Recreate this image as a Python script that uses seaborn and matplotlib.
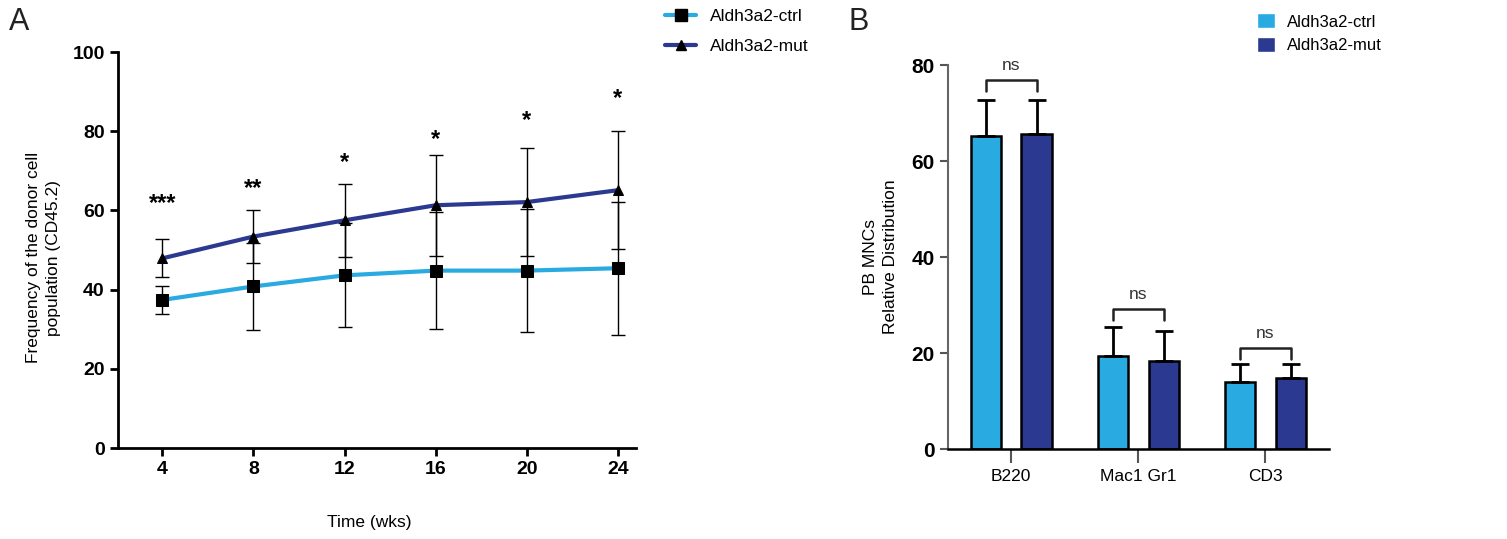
import numpy as np
import matplotlib
matplotlib.use("Agg")
import matplotlib.pyplot as plt
import seaborn as sns
import pandas as pd
from matplotlib.lines import Line2D
from matplotlib.patches import Patch

# Panel A data: donor chimerism over time
weeks = [4, 8, 12, 16, 20, 24]
ctrl_mean = [37.4, 40.8, 43.6, 44.8, 44.8, 45.4]
ctrl_sd = [3.6, 11.0, 13.1, 14.7, 15.6, 16.8]
mut_mean = [47.9, 53.4, 57.5, 61.3, 62.1, 65.1]
mut_sd = [4.8, 6.6, 9.2, 12.8, 13.7, 14.9]
stars = ['***', '**', '*', '*', '*', '*']
star_y = [62.6, 66.4, 72.9, 78.7, 83.4, 89.1]

# Panel B data: lineage distribution
lineages = ['B220', 'Mac1 Gr1', 'CD3']
ctrl_dist = [65.3, 19.4, 14.1]
ctrl_dist_err = [7.4, 6.1, 3.7]
mut_dist = [65.7, 18.3, 14.8]
mut_dist_err = [7.1, 6.3, 3.0]
bracket_y = [76.8, 29.3, 21.1]

groups = ['Aldh3a2-ctrl', 'Aldh3a2-mut']
light_blue = '#29abe2'
dark_blue = '#2b3990'

sns.set_style("ticks")
plt.rcParams['font.family'] = ['Liberation Sans', 'DejaVu Sans']
plt.rcParams['text.color'] = 'black'
plt.rcParams['axes.labelcolor'] = 'black'
plt.rcParams['xtick.labelcolor'] = 'black'
plt.rcParams['ytick.labelcolor'] = 'black'

fig = plt.figure(figsize=(15.07, 5.39), dpi=100)

# ---------------- Panel A ----------------
axA = fig.add_axes([0.0783, 0.1688, 0.3437, 0.7347])
df_a = pd.DataFrame({
    'week': weeks * 2,
    'value': ctrl_mean + mut_mean,
    'group': [groups[0]] * 6 + [groups[1]] * 6,
})
for g, col, mk, ms in [(groups[0], light_blue, 's', 8), (groups[1], dark_blue, '^', 7)]:
    sub = df_a[df_a['group'] == g]
    sns.lineplot(data=sub, x='week', y='value', color=col, lw=3, marker=mk,
                 markersize=ms, markerfacecolor='black', markeredgecolor='black',
                 ax=axA, legend=False, zorder=3)
axA.errorbar(weeks, ctrl_mean, yerr=ctrl_sd, fmt='none', ecolor='black',
             elinewidth=1, capsize=5, capthick=1, zorder=2)
axA.errorbar(weeks, mut_mean, yerr=mut_sd, fmt='none', ecolor='black',
             elinewidth=1, capsize=5, capthick=1, zorder=2)
for w, s, y in zip(weeks, stars, star_y):
    axA.text(w, y - 0.8, s, ha='center', va='center', fontsize=17, fontweight='bold')

axA.set_xlim(2.05, 24.8)
axA.set_ylim(0, 100)
axA.set_xticks(weeks)
axA.set_yticks([0, 20, 40, 60, 80, 100])
axA.tick_params(axis='both', labelsize=14, width=2, length=6, color='black')
for lbl in axA.get_xticklabels() + axA.get_yticklabels():
    lbl.set_fontweight('bold')
for sp in ['left', 'bottom']:
    axA.spines[sp].set_linewidth(2)
    axA.spines[sp].set_color('black')
sns.despine(ax=axA)
axA.set_xlabel('Time (wks)', fontsize=12.5)
axA.xaxis.set_label_coords(0.486, -0.169)
axA.set_ylabel('Frequency of the donor cell\npopulation (CD45.2)', fontsize=12.5,
               linespacing=1.45)
axA.yaxis.set_label_coords(-0.110, 0.48)

legA = [Line2D([0], [0], color=light_blue, lw=3, marker='s', markersize=8,
               markerfacecolor='black', markeredgecolor='black'),
        Line2D([0], [0], color=dark_blue, lw=3, marker='^', markersize=7,
               markerfacecolor='black', markeredgecolor='black')]
fig.legend(legA, groups, loc='upper left', bbox_to_anchor=(0.431, 1.012), frameon=False,
           fontsize=12.5, handlelength=1.8, handletextpad=0.8, labelspacing=0.85)

fig.text(0.006, 0.96, 'A', fontsize=22, va='center', color='#222222')
fig.text(0.563, 0.96, 'B', fontsize=22, va='center', color='#222222')

# ---------------- Panel B ----------------
axB = fig.add_axes([0.6289, 0.1664, 0.2530, 0.7130])
df_b = pd.DataFrame({
    'lineage': lineages * 2,
    'value': ctrl_dist + mut_dist,
    'group': [groups[0]] * 3 + [groups[1]] * 3,
})
sns.barplot(data=df_b, x='lineage', y='value', hue='group', order=lineages,
            hue_order=groups, palette=[light_blue, dark_blue], saturation=1,
            errorbar=None, width=0.8, gap=0.4, edgecolor='black', linewidth=1.8,
            legend=False, ax=axB)

bars = axB.patches
ctrl_x = [b.get_x() + b.get_width() / 2 for b in bars[:3]]
mut_x = [b.get_x() + b.get_width() / 2 for b in bars[3:6]]
axB.errorbar(ctrl_x, ctrl_dist, yerr=[np.zeros(3), ctrl_dist_err], fmt='none',
             ecolor='black', elinewidth=2, capsize=6.5, capthick=2, zorder=1)
axB.errorbar(mut_x, mut_dist, yerr=[np.zeros(3), mut_dist_err], fmt='none',
             ecolor='black', elinewidth=2, capsize=6.5, capthick=2, zorder=1)
for xc, xm, by in zip(ctrl_x, mut_x, bracket_y):
    axB.plot([xc, xc, xm, xm], [by - 2.3, by, by, by - 2.3], color='#222222', lw=1.8)
    axB.text((xc + xm) / 2, by + 3.0, 'ns', ha='center', va='center', fontsize=12.5,
             color='#333333')

axB.set_xlim(-0.5, 2.5)
axB.set_ylim(0, 80)
axB.set_yticks([0, 20, 40, 60, 80])
axB.tick_params(axis='y', labelsize=15, width=1.5, length=6, color='#555555')
axB.tick_params(axis='x', labelsize=12.5, width=1.5, length=10, color='#555555', pad=4)
for lbl in axB.get_yticklabels():
    lbl.set_fontweight('bold')
axB.spines['left'].set_linewidth(1.5)
axB.spines['left'].set_color('#666666')
axB.spines['bottom'].set_linewidth(1.8)
axB.spines['bottom'].set_color('black')
sns.despine(ax=axB)
axB.set_xlabel('')
axB.set_ylabel('PB MNCs\nRelative Distribution', fontsize=12.5, linespacing=1.4)
axB.yaxis.set_label_coords(-0.130, 0.50)

legB = [Patch(facecolor=light_blue), Patch(facecolor=dark_blue)]
fig.legend(legB, groups, loc='upper left', bbox_to_anchor=(0.824, 1.003), frameon=False,
           fontsize=12, handlelength=1.1, handleheight=1.0, handletextpad=0.7, labelspacing=0.45)

fig.savefig('out.png', dpi=100)
